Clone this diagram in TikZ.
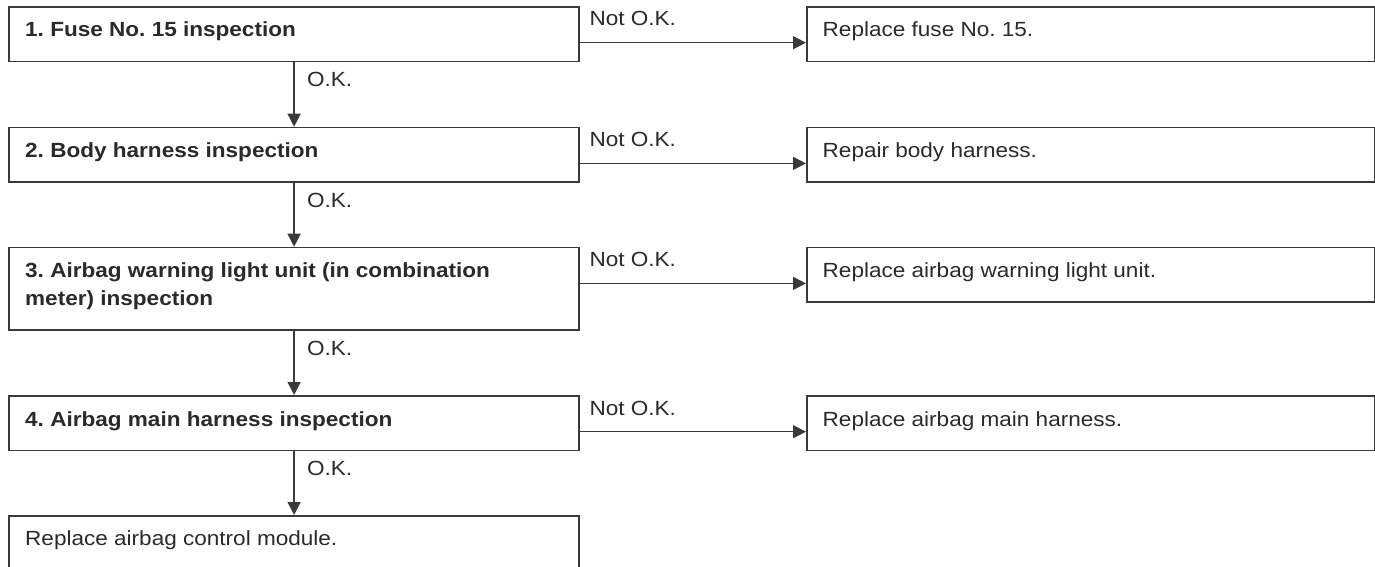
\documentclass[tikz,border=0pt]{standalone}
\usepackage{fontspec}
\setmainfont{Liberation Sans}[FakeStretch=1.1]
\usetikzlibrary{arrows.meta,calc}
\definecolor{ink}{HTML}{2A2A2A}
\definecolor{edge}{HTML}{3A3A3A}
\begin{document}
\frenchspacing
\begin{tikzpicture}[x=1pt,y=-1pt,
  lbox/.style={draw=edge, line width=1.6pt, rectangle, inner sep=0pt, anchor=north west,
               minimum width=570pt, minimum height=#1},
  lbox/.default=54.6pt,
  rbox/.style={draw=edge, line width=1.6pt, rectangle, inner sep=0pt, anchor=north west,
               minimum width=568pt, minimum height=54.6pt},
  txt/.style={font=\fontsize{20.5pt}{27.3pt}\selectfont\frenchspacing, text=ink, inner sep=0pt, anchor=base west, align=left},
  btxt/.style={txt, font=\fontsize{20.5pt}{27.3pt}\selectfont\bfseries\frenchspacing},
  lab/.style={font=\fontsize{20.5pt}{27.3pt}\selectfont\frenchspacing, text=ink, inner sep=0pt, anchor=base west},
  arr/.style={draw=edge, line width=1.4pt, -{Triangle[length=13pt,width=13pt]}}
]
\useasboundingbox (0,0) rectangle (1375,567);
\clip (0,0) rectangle (1375,567);
\fill[white] (0,0) rectangle (1375,567);

% left column boxes
\node[lbox] (b1) at (8.3,6) {};
\node[lbox] (b2) at (8.3,126.7) {};
\node[lbox=82.6pt] (b3) at (8.3,246.7) {};
\node[lbox] (b4) at (8.3,395) {};
\node[lbox] (b5) at (8.3,515) {};

% right column boxes
\node[rbox] (r1) at (806,6) {};
\node[rbox] (r2) at (806,126.7) {};
\node[rbox] (r3) at (806,246.7) {};
\node[rbox] (r4) at (806,395) {};

% texts
\node[btxt] (t1) at ($(b1.north west)+(16.7,31)$) {1. Fuse No. 15 inspection};
\node[btxt] (t2) at ($(b2.north west)+(16.7,31)$) {2. Body harness inspection};
\node[btxt] (t3) at ($(b3.north west)+(16.7,58.3)$) {3. Airbag warning light unit (in combination\\meter) inspection};
\node[btxt] (t4) at ($(b4.north west)+(16.7,31)$) {4. Airbag main harness inspection};
\node[txt] (t5) at ($(b5.north west)+(16.7,30)$) {Replace airbag control module.};

\node[txt] (s1) at ($(r1.north west)+(16.5,31)$) {Replace fuse No. 15.};
\node[txt] (s2) at ($(r2.north west)+(16.5,31)$) {Repair body harness.};
\node[txt] (s3) at ($(r3.north west)+(16.5,31)$) {Replace airbag warning light unit.};
\node[txt] (s4) at ($(r4.north west)+(16.5,31)$) {Replace airbag main harness.};

% Not O.K. connectors
\foreach \i in {1,2,3,4}{
  \draw[arr] ($(b\i.north east)+(0,36.7)$) -- ($(r\i.north west)+(0,36.7)$);
  \node[lab] (n\i) at ($(b\i.north east)+(9.4,20)$) {Not O.K.};
}

% O.K. connectors
\foreach \i/\j in {1/2,2/3,3/4,4/5}{
  \draw[arr] (b\i.south) -- (b\j.north);
  \node[lab] (k\i) at ($(b\i.south)+(12.7,24.5)$) {O.K.};
}
\end{tikzpicture}
\end{document}
